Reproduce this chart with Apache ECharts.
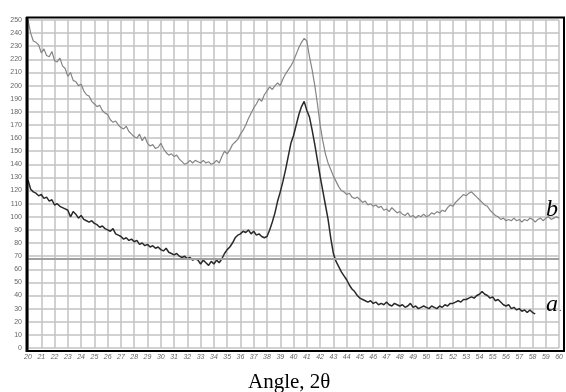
<!DOCTYPE html>
<html>
<head>
<meta charset="utf-8">
<script src="https://cdn.jsdelivr.net/npm/echarts@6/dist/echarts.min.js"></script>
<style>
html,body{margin:0;padding:0;background:#fff;}
#chart{width:566px;height:392px;}
</style>
</head>
<body>
<div id="chart"></div>
<script>
// Sampling of the 2θ axis (degrees)
const startAngle = 20;
const stepAngle = 0.2;

// Curve b (upper, light grey), 20.0 .. 60.0 every 0.2°
const seriesB = [
  250, 240, 234, 233, 231,
  225, 228, 223, 222, 226,
  219, 218, 221, 215, 213,
  207, 210, 204, 203, 200,
  201, 196, 193, 192, 188,
  186, 184, 185, 181, 179,
  178, 174, 172, 173, 170,
  168, 167, 169, 165, 163,
  161, 160, 163, 158, 161,
  156, 154, 155, 152, 153,
  156, 152, 149, 147, 148,
  146, 147, 144, 142, 140,
  141, 143, 141, 143, 142,
  141, 143, 141, 142, 140,
  141, 143, 141, 146, 150,
  148, 151, 155, 157, 159,
  163, 166, 170, 175, 179,
  183, 186, 190, 188, 193,
  196, 199, 197, 200, 202,
  200, 205, 209, 212, 215,
  219, 224, 229, 233, 236,
  234, 222, 212, 200, 186,
  170, 158, 148, 141, 136,
  131, 127, 123, 120, 119,
  117, 118, 115, 114, 115,
  113, 111, 112, 109, 110,
  108, 109, 107, 108, 105,
  106, 104, 107, 105, 103,
  104, 102, 101, 103, 100,
  101, 99, 101, 100, 102,
  100, 101, 103, 102, 104,
  103, 105, 104, 107, 109,
  108, 111, 113, 115, 117,
  116, 118, 119, 117, 115,
  113, 111, 109, 108, 105,
  103, 101, 100, 98, 99,
  97, 98, 97, 99, 97,
  98, 96, 98, 97, 99,
  98, 96, 98, 99, 97,
  99, 100, 98, 99, 100,
  99
];

// Curve a (lower, dark), 20.0 .. 58.2 every 0.2°
const seriesA = [
  128, 121, 119, 118, 116,
  117, 114, 115, 112, 113,
  109, 110, 108, 107, 106,
  105, 100, 104, 102, 99,
  101, 98, 97, 96, 97,
  95, 94, 92, 93, 91,
  90, 89, 91, 87, 86,
  85, 83, 84, 82, 83,
  81, 82, 79, 80, 78,
  79, 77, 78, 76, 77,
  75, 74, 76, 73, 72,
  71, 72, 70, 69, 70,
  68, 69, 67, 68, 67,
  64, 67, 65, 63, 66,
  64, 67, 65, 68, 72,
  75, 77, 80, 84, 86,
  87, 89, 88, 90, 87,
  89, 86, 87, 85, 84,
  85, 90, 96, 103, 112,
  119, 127, 136, 146, 156,
  162, 170, 178, 184, 188,
  181, 176, 166, 155, 143,
  131, 120, 109, 98, 84,
  72, 66, 62, 58, 55,
  52, 48, 45, 43, 40,
  38, 37, 36, 35, 36,
  34, 35, 33, 34, 33,
  35, 33, 32, 34, 33,
  32, 33, 31, 32, 34,
  31, 32, 30, 31, 32,
  31, 30, 32, 31, 30,
  32, 31, 33, 32, 34,
  34, 35, 36, 35, 37,
  37, 38, 39, 38, 40,
  41, 43, 41, 40, 38,
  39, 36, 37, 35, 33,
  32, 33, 30, 31, 29,
  30, 28, 29, 27, 29,
  27, 26
];

const xMin = 20, xMax = 60, xStep = 1;
const yMin = 0, yMax = 250, yStep = 10;
const refLevel = 68;
const xTitle = 'Angle, 2θ';
const labelA = 'a';
const labelB = 'b';

function toPairs(arr) {
  return arr.map((v, i) => [+(startAngle + i * stepAngle).toFixed(2), v]);
}

const chart = echarts.init(document.getElementById('chart'), null, {renderer: 'canvas'});

const gridColor = '#c2c2c2';

chart.setOption({
  animation: false,
  backgroundColor: '#fff',
  title: {
    text: xTitle,
    left: 243,
    top: 367,
    textStyle: {fontFamily: 'Liberation Serif', fontSize: 21, fontWeight: 'normal', color: '#000'}
  },
  grid: {left: 28, right: 2, top: 20, bottom: 44, containLabel: false},
  xAxis: {
    type: 'value', min: xMin, max: xMax, interval: xStep,
    axisLine: {show: false}, axisTick: {show: false},
    axisLabel: {fontSize: 7, color: '#666', margin: 6, fontFamily: 'Liberation Sans', fontStyle: 'italic'},
    splitLine: {show: true, lineStyle: {color: gridColor, width: 1.5}}
  },
  yAxis: {
    type: 'value', min: yMin, max: yMax, interval: yStep,
    axisLine: {show: false}, axisTick: {show: false},
    axisLabel: {fontSize: 7, color: '#666', margin: 6, fontFamily: 'Liberation Sans'},
    splitLine: {show: true, lineStyle: {color: gridColor, width: 1.5}}
  },
  series: [
    {
      name: 'b', type: 'line', data: toPairs(seriesB), showSymbol: false,
      lineStyle: {color: '#858585', width: 1.2}, itemStyle: {color: '#858585'}, z: 3
    },
    {
      name: 'a', type: 'line', data: toPairs(seriesA), showSymbol: false,
      lineStyle: {color: '#2a2a2a', width: 1.5}, itemStyle: {color: '#2a2a2a'}, z: 4,
      markLine: {
        silent: true, symbol: 'none', label: {show: false},
        lineStyle: {color: '#a0a0a0', width: 2, type: 'solid'},
        data: [{yAxis: refLevel}]
      }
    }
  ],
  graphic: [
    {type: 'rect', z: 100, shape: {x: 27, y: 17.5, width: 537, height: 333.5},
     style: {fill: 'none', stroke: '#000', lineWidth: 2}},
    {type: 'line', z: 100, shape: {x1: 27, y1: 17, x2: 27, y2: 352},
     style: {stroke: '#000', lineWidth: 3}},
    {type: 'text', z: 100, x: 546, y: 198,
     style: {text: labelB, font: 'italic 24px "Liberation Serif"', fill: '#000'}},
    {type: 'text', z: 100, x: 546, y: 293,
     style: {text: labelA, font: 'italic 24px "Liberation Serif"', fill: '#000'}},
    {type: 'text', z: 100, x: 559, y: 303,
     style: {text: '.', font: '10px "Liberation Serif"', fill: '#333'}}
  ]
});
</script>
</body>
</html>
